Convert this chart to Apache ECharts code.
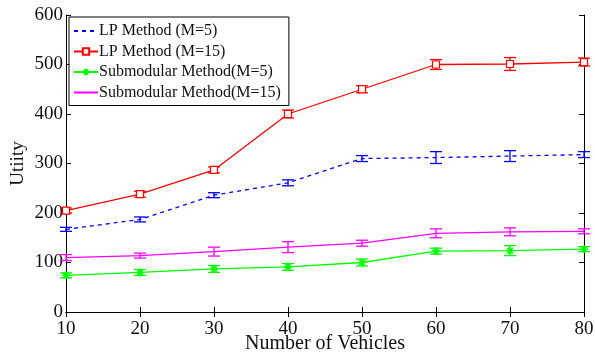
<!DOCTYPE html>
<html>
<head>
<meta charset="utf-8">
<script src="https://cdn.jsdelivr.net/npm/echarts@6/dist/echarts.min.js"></script>
<style>
html, body { margin: 0; padding: 0; background: #fff; }
#main { width: 595px; height: 354px; }
</style>
</head>
<body>
<div id="main"></div>
<script>
// 数据
const vehicles = [10, 20, 30, 40, 50, 60, 70, 80];
const lp5 = [167, 187, 236, 261, 310, 312, 315, 318];
const lp5Err = [4, 5, 5, 6, 6, 12, 11, 6];
const lp15 = [205, 238, 287, 400, 450, 500, 501, 505];
const lp15Err = [5, 6, 6, 8, 7, 10, 13, 8];
const sub5 = [74, 80, 87, 91, 100, 123, 124, 127];
const sub5Err = [5, 6, 7, 7, 7, 6, 10, 5];
const sub15 = [110, 114, 122, 131, 139, 159, 162, 163];
const sub15Err = [6, 5, 9, 11, 6, 9, 8, 5];

const chart = echarts.init(document.getElementById('main'));
const serif = 'Liberation Serif';
const ink = '#111';

function pts(vals) {
    return vehicles.map((x, i) => [x, vals[i]]);
}
function errs(vals, e) {
    return vehicles.map((x, i) => [x, vals[i] - e[i], vals[i] + e[i]]);
}
function errSeries(vals, e, color) {
    return {
        type: 'custom',
        silent: true,
        z: 3,
        data: errs(vals, e),
        renderItem: function (params, api) {
            const lo = api.coord([api.value(0), api.value(1)]);
            const hi = api.coord([api.value(0), api.value(2)]);
            const w = 6;
            const st = {stroke: color, lineWidth: 1.3};
            return {
                type: 'group',
                children: [
                    {type: 'line', shape: {x1: lo[0], y1: lo[1], x2: hi[0], y2: hi[1]}, style: st},
                    {type: 'line', shape: {x1: lo[0] - w, y1: lo[1], x2: lo[0] + w, y2: lo[1]}, style: st},
                    {type: 'line', shape: {x1: hi[0] - w, y1: hi[1], x2: hi[0] + w, y2: hi[1]}, style: st}
                ]
            };
        }
    };
}

const asterisk = 'path://M0,5L10,5M5,0L5,10M1.5,1.5L8.5,8.5M8.5,1.5L1.5,8.5';

const tickStyle = {show: true, inside: true, length: 5, lineStyle: {color: '#000'}};
const lineStyle = {lineStyle: {color: '#000', width: 1}};

let option = {
    animation: false,
    backgroundColor: '#fff',
    grid: {left: 66, right: 11, top: 15, bottom: 42, containLabel: false, outerBoundsMode: 'none'},
    legend: {
        orient: 'vertical',
        left: 69,
        top: 17,
        padding: [6, 8, 5, 4],
        itemGap: 4.5,
        itemWidth: 24,
        itemHeight: 8,
        backgroundColor: '#fff',
        borderColor: '#000',
        borderWidth: 1,
        borderRadius: 0,
        textStyle: {fontFamily: serif, fontSize: 16, color: ink, padding: [0, 0, 0, -4]},
        data: [
            {name: 'LP Method (M=5)', itemStyle: {opacity: 0}},
            {name: 'LP Method (M=15)'},
            {name: 'Submodular Method(M=5)'},
            {name: 'Submodular Method(M=15)', itemStyle: {opacity: 0}}
        ]
    },
    xAxis: [{
        type: 'value',
        min: 10, max: 80, interval: 10,
        name: 'Number of Vehicles',
        nameLocation: 'middle',
        nameGap: 22,
        nameMoveOverlap: false,
        nameTextStyle: {fontFamily: serif, fontSize: 20, color: ink},
        axisLine: lineStyle,
        axisTick: tickStyle,
        splitLine: {show: false},
        axisLabel: {fontFamily: serif, fontSize: 19, color: ink, margin: 8}
    }, {
        type: 'value',
        position: 'top',
        min: 10, max: 80, interval: 10,
        axisLine: lineStyle,
        axisTick: tickStyle,
        splitLine: {show: false},
        axisLabel: {show: false}
    }],
    yAxis: [{
        type: 'value',
        min: 0, max: 600, interval: 100,
        name: 'Utiity',
        nameLocation: 'middle',
        nameGap: 38,
        nameMoveOverlap: false,
        nameTextStyle: {fontFamily: serif, fontSize: 19, color: ink},
        axisLine: {show: true, lineStyle: {color: '#000', width: 1}},
        axisTick: tickStyle,
        splitLine: {show: false},
        axisLabel: {fontFamily: serif, fontSize: 19, color: ink, margin: 3}
    }, {
        type: 'value',
        position: 'right',
        min: 0, max: 600, interval: 100,
        axisLine: {show: true, lineStyle: {color: '#000', width: 1}},
        axisTick: tickStyle,
        splitLine: {show: false},
        axisLabel: {show: false}
    }],
    series: [{
        name: 'LP Method (M=5)',
        type: 'line',
        data: pts(lp5),
        symbol: 'none',
        itemStyle: {color: '#0000ff'},
        lineStyle: {color: '#0000ff', width: 1.3, type: [4, 4]}
    }, {
        name: 'LP Method (M=15)',
        type: 'line',
        data: pts(lp15),
        symbol: 'rect',
        symbolSize: 7,
        itemStyle: {color: '#fff', borderColor: '#ff0000', borderWidth: 1.2},
        lineStyle: {color: '#ff0000', width: 1.3}
    }, {
        name: 'Submodular Method(M=5)',
        type: 'line',
        data: pts(sub5),
        symbol: asterisk,
        symbolSize: 8,
        itemStyle: {color: '#00ff00', borderColor: '#00ff00', borderWidth: 1.5},
        lineStyle: {color: '#00ff00', width: 1.3}
    }, {
        name: 'Submodular Method(M=15)',
        type: 'line',
        data: pts(sub15),
        symbol: 'none',
        itemStyle: {color: '#ff00ff'},
        lineStyle: {color: '#ff00ff', width: 1.3}
    },
    errSeries(lp5, lp5Err, '#0000ff'),
    errSeries(lp15, lp15Err, '#ff0000'),
    errSeries(sub5, sub5Err, '#00ff00'),
    errSeries(sub15, sub15Err, '#ff00ff')]
};

chart.setOption(option);
</script>
</body>
</html>
